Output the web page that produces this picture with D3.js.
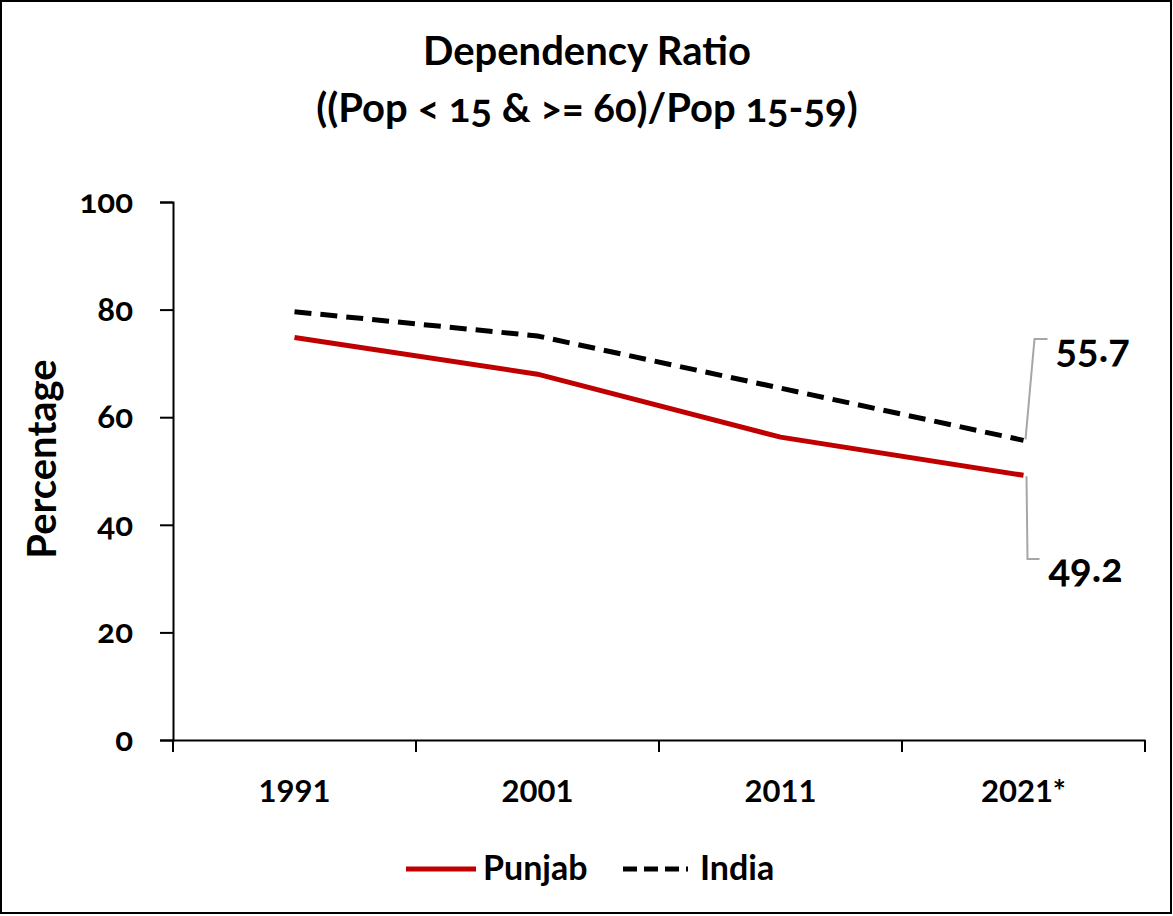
<!DOCTYPE html>
<html><head><meta charset="utf-8">
<script src="https://cdn.jsdelivr.net/npm/d3@7"></script>
<style>
html,body{margin:0;padding:0;background:#fff;}
svg text{font-family:Lato,"Open Sans",sans-serif;font-weight:bold;fill:#000;font-variant-numeric:oldstyle-nums;}
</style></head>
<body>
<svg id="c" width="1173" height="916"></svg>
<script>
const categories = ["1991","2001","2011","2021*"];
const punjab = [74.8, 68.0, 56.3, 49.2];
const india = [79.6, 75.1, 65.4, 55.7];
const yTicks = [0,20,40,60,80,100];
const titleLines = ["Dependency Ratio","((Pop < 15 & >= 60)/Pop 15-59)"];

const svg = d3.select("#c");
svg.append("rect").attr("x",1).attr("y",1).attr("width",1170).attr("height",912)
  .attr("fill","#fff").attr("stroke","#000").attr("stroke-width",2);

const x = d3.scaleBand().domain(categories).range([173,1145]);
const y = d3.scaleLinear().domain([0,100]).range([740,202]);

svg.selectAll("text.title").data(titleLines).enter().append("text")
  .attr("x",587).attr("y",(d,i)=>65+i*57).attr("text-anchor","middle")
  .style("font-size","40px").text(d=>d);

// Y axis
const ya = svg.append("g").attr("transform","translate(173,0)")
  .call(d3.axisLeft(y).tickValues(yTicks).tickSize(13).tickPadding(27));
ya.select(".domain").attr("stroke","#000").attr("stroke-width",2);
ya.selectAll(".tick line").attr("stroke","#000").attr("stroke-width",2);
ya.selectAll(".tick text").style("font-size","33px").style("font-family","Lato, sans-serif")
  .style("font-weight","bold").style("font-variant-numeric","oldstyle-nums").attr("dy","0.32em");

// X axis
const xa = svg.append("g").attr("transform","translate(0,740)")
  .call(d3.axisBottom(x).tickSize(0).tickPadding(40));
xa.select(".domain").attr("stroke","#000").attr("stroke-width",2);
xa.selectAll(".tick text").style("font-size","31px").style("font-family","Lato, sans-serif")
  .style("font-weight","bold").style("font-variant-numeric","lining-nums");
const bounds = categories.map(c=>x(c)).concat([x.range()[1]]);
svg.append("g").selectAll("line").data(bounds).enter().append("line")
  .attr("x1",d=>d).attr("x2",d=>d).attr("y1",740).attr("y2",752)
  .attr("stroke","#000").attr("stroke-width",2);

svg.append("text").attr("transform","translate(56,459) rotate(-90)")
  .attr("text-anchor","middle").style("font-size","40px").text("Percentage");

const cx = c => x(c)+x.bandwidth()/2;
const line = d3.line().x((d,i)=>cx(categories[i])).y(d=>y(d));
svg.append("path").datum(india).attr("d",line).attr("fill","none")
  .attr("stroke","#000").attr("stroke-width",5).attr("stroke-dasharray","17,9");
svg.append("path").datum(punjab).attr("d",line).attr("fill","none")
  .attr("stroke","#c00000").attr("stroke-width",5);

// data labels with leader lines
const lx = cx(categories[3]);
const iy = y(india[3]), py = y(punjab[3]);
svg.append("polyline").attr("points",`${lx+2},${iy-1} ${lx+11},${339} ${lx+24},${339}`)
  .attr("fill","none").attr("stroke","#a6a6a6").attr("stroke-width",2);
svg.append("polyline").attr("points",`${lx+3},${py+1} ${lx+4},${559} ${lx+16},${559}`)
  .attr("fill","none").attr("stroke","#a6a6a6").attr("stroke-width",2);
svg.append("text").attr("x",lx+32).attr("y",362).style("font-size","40px").text(india[3].toFixed(1));
svg.append("text").attr("x",lx+25).attr("y",582).style("font-size","40px").text(punjab[3].toFixed(1));

// legend
const lg = svg.append("g");
lg.append("line").attr("x1",406).attr("x2",476).attr("y1",869).attr("y2",869)
  .attr("stroke","#c00000").attr("stroke-width",5);
lg.append("text").attr("x",483).attr("y",880).style("font-size","34px").text("Punjab");
lg.append("line").attr("x1",623).attr("x2",688).attr("y1",869).attr("y2",869)
  .attr("stroke","#000").attr("stroke-width",5).attr("stroke-dasharray","14,7");
lg.append("text").attr("x",700).attr("y",880).style("font-size","34px").text("India");
</script>
</body></html>
